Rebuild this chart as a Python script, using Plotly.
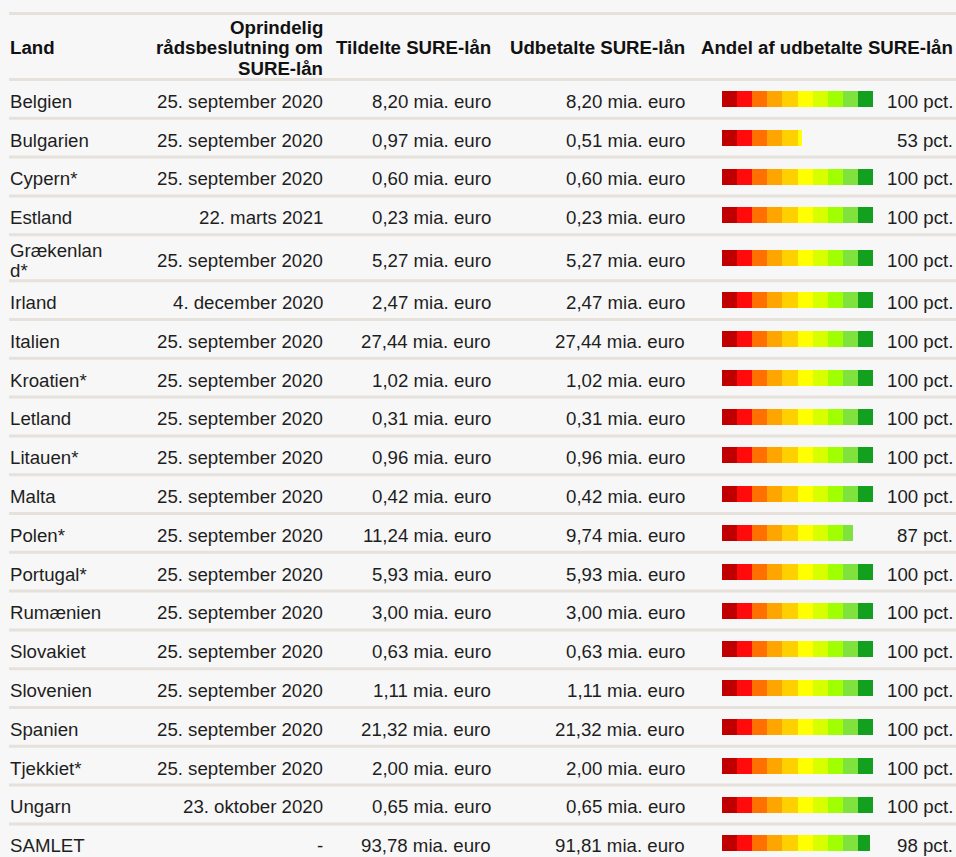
import plotly.graph_objects as go

# ---------------- data ----------------
countries = ["Belgien", "Bulgarien", "Cypern*", "Estland", "Grækenland*", "Irland",
             "Italien", "Kroatien*", "Letland", "Litauen*", "Malta", "Polen*",
             "Portugal*", "Rumænien", "Slovakiet", "Slovenien", "Spanien",
             "Tjekkiet*", "Ungarn", "SAMLET"]
decision_dates = ["25. september 2020", "25. september 2020", "25. september 2020",
                  "22. marts 2021", "25. september 2020", "4. december 2020",
                  "25. september 2020", "25. september 2020", "25. september 2020",
                  "25. september 2020", "25. september 2020", "25. september 2020",
                  "25. september 2020", "25. september 2020", "25. september 2020",
                  "25. september 2020", "25. september 2020", "25. september 2020",
                  "23. oktober 2020", "-"]
allocated_bn = [8.20, 0.97, 0.60, 0.23, 5.27, 2.47, 27.44, 1.02, 0.31, 0.96, 0.42,
                11.24, 5.93, 3.00, 0.63, 1.11, 21.32, 2.00, 0.65, 93.78]
disbursed_bn = [8.20, 0.51, 0.60, 0.23, 5.27, 2.47, 27.44, 1.02, 0.31, 0.96, 0.42,
                9.74, 5.93, 3.00, 0.63, 1.11, 21.32, 2.00, 0.65, 91.81]
share_pct = [100, 53, 100, 100, 100, 100, 100, 100, 100, 100, 100, 87, 100, 100,
             100, 100, 100, 100, 100, 98]
headers = ["Land", "Oprindelig\nrådsbeslutning om\nSURE-lån", "Tildelte SURE-lån",
           "Udbetalte SURE-lån", "Andel af udbetalte SURE-lån"]

# ---------------- style / layout ----------------
W, H = 956, 857
BG = "#f7f7f7"
RULE = "#e6e2db"
TXT = "#1e1e1e"
FONT = "Liberation Sans, Arial, sans-serif"
FS = 18.67
seg_colors = ["#c00000", "#ff0b0b", "#ff7000", "#ffa500", "#ffd000",
              "#ffff00", "#d8ff00", "#a0ff00", "#80e23c", "#12a01e"]

LINE_H = 20.5       # text line spacing
RULE_W = 3
top_rule = 12
header_rule = 78
col_land_x = 10
col_date_r = 323
col_alloc_r = 491
col_disb_r = 685
col_pct_r = 953
bar_x0, bar_x1 = 722, 873
TEXT_DY = 2.3
HEAD_DY = 1.0


def wrap(label, width=10):
    lines = []
    while len(label) > width:
        lines.append(label[:width - 1])
        label = label[width - 1:]
    lines.append(label)
    return lines


def fmt(v):
    return f"{v:.2f}".replace(".", ",") + " mia. euro"


# row geometry
rules = [top_rule, header_rule]
centers = []
y = header_rule + RULE_W
for c in countries:
    n = len(wrap(c))
    h = 35.8 + (n - 1) * 7.2
    centers.append(y + h / 2)
    y += h
    rules.append(y)
    y += RULE_W

fig = go.Figure()

# bars: ten colour steps of 10 % each
for i, col in enumerate(seg_colors):
    lens = [max(0, min(10, p - 10 * i)) for p in share_pct]
    fig.add_trace(go.Bar(
        orientation="h", x=lens, base=[10 * i] * len(lens), y=centers,
        width=16, marker=dict(color=col, line=dict(width=0)),
        xaxis="x2", yaxis="y", hoverinfo="skip", showlegend=False))

annotations = []


def add_text(x, yy, text, anchor, bold=False):
    annotations.append(dict(
        x=x, y=yy, xref="x", yref="y", text=f"<b>{text}</b>" if bold else text,
        showarrow=False, xanchor=anchor, yanchor="middle", align=anchor,
        borderpad=0, borderwidth=0,
        font=dict(family=FONT, size=FS, color="#111111" if bold else TXT)))


# header
hc = (top_rule + RULE_W + header_rule) / 2 + HEAD_DY
xs = [col_land_x, col_date_r, col_alloc_r, col_disb_r, col_pct_r]
anchors = ["left", "right", "right", "right", "right"]
for hx, ha, htxt in zip(xs, anchors, headers):
    lines = htxt.split("\n")
    for k, ln in enumerate(lines):
        add_text(hx, hc + (k - (len(lines) - 1) / 2) * LINE_H, ln, ha, bold=True)

# body
for i, c in enumerate(countries):
    cy = centers[i] + TEXT_DY
    lines = wrap(c)
    for k, ln in enumerate(lines):
        add_text(col_land_x, cy + (k - (len(lines) - 1) / 2) * 20, ln, "left")
    add_text(col_date_r, cy, decision_dates[i], "right")
    add_text(col_alloc_r, cy, fmt(allocated_bn[i]), "right")
    add_text(col_disb_r, cy, fmt(disbursed_bn[i]), "right")
    add_text(col_pct_r, cy, f"{share_pct[i]} pct.", "right")

shapes = [dict(type="rect", xref="x", yref="y", x0=9, x1=W + 5, y0=r, y1=r + RULE_W,
               fillcolor=RULE, line=dict(width=0), layer="below") for r in rules]

fig.update_layout(
    width=W, height=H, margin=dict(l=0, r=0, t=0, b=0),
    paper_bgcolor=BG, plot_bgcolor="rgba(0,0,0,0)", barmode="overlay", bargap=0,
    showlegend=False, annotations=annotations, shapes=shapes,
    xaxis=dict(range=[0, W], domain=[0, 1], visible=False, fixedrange=True),
    xaxis2=dict(range=[0, 100], domain=[bar_x0 / W, bar_x1 / W], anchor="y",
                visible=False, fixedrange=True),
    yaxis=dict(range=[H, 0], domain=[0, 1], visible=False, fixedrange=True),
)

fig.write_html(
    "out.html", config={"displayModeBar": False},
    post_script="document.body.style.margin='0';document.body.style.overflow='hidden';"
                "document.body.style.background='" + BG + "';")
